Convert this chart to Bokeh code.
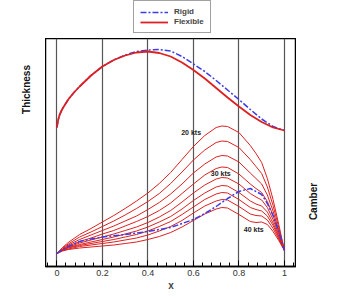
from bokeh.plotting import figure
from bokeh.layouts import column, row
from bokeh.models import Range1d, Label, Legend, LegendItem, SingleIntervalTicker
from bokeh.embed import file_html
from bokeh.resources import INLINE

# ---- thickness distribution (arbitrary vertical units) ----
x_thick = [0, 0.005, 0.0125, 0.025, 0.05, 0.075, 0.1, 0.15, 0.2, 0.25, 0.3, 0.35,
           0.4, 0.45, 0.5, 0.55, 0.6, 0.65, 0.7, 0.75, 0.8, 0.85, 0.9, 0.95, 1.0]
thick_flexible = [139, 146, 152, 158, 167, 174, 180, 191, 200, 206.5, 211, 214,
                  215, 213.5, 210, 204, 196.5, 188, 178.5, 169, 160, 151.5, 144.5, 139, 136]
thick_rigid = [139, 146, 152, 158, 167, 174, 180, 191, 200, 206.5, 211.5, 215,
               216.5, 217, 215.5, 210, 202.5, 195, 186, 176.5, 167, 157, 147.5, 140, 136]

# ---- camber lines of the flexible section, one per wind speed ----
x_camber = [0, 0.025, 0.05, 0.1, 0.15, 0.2, 0.25, 0.3, 0.35, 0.4, 0.45, 0.5, 0.55,
            0.6, 0.65, 0.7, 0.725, 0.75, 0.8, 0.85, 0.875, 0.9, 0.925, 0.95, 0.975, 1.0]
camber_20 = [13, 19, 24, 32, 38, 44.5, 51, 58, 65.5, 73.5, 83, 94, 107, 120, 131, 139,
             140.5, 140, 134, 121, 113, 104, 88, 67, 42, 16]
camber_22_5 = [13, 18.5, 22.5, 29.5, 34.5, 40, 45.5, 51.5, 58, 65, 73, 83, 94.5, 106.5,
               116.5, 124, 125.5, 125, 119, 107, 100, 93, 79.5, 61, 39, 16]
camber_25 = [13, 17.5, 21.5, 27, 31.5, 36, 40.5, 45.5, 50.5, 57, 64, 72.5, 82.5, 93.5,
             102.5, 109.5, 111, 110.5, 104.5, 93.5, 88, 82.5, 71.5, 55.5, 36, 16]
camber_27_5 = [13, 17, 20.5, 25, 28.5, 32.5, 36, 40.5, 45, 50, 56, 63.5, 73, 82.5, 91.5,
               98, 99.5, 99, 92.5, 82.5, 78, 74, 65, 51, 34, 16]
camber_30 = [13, 17, 19.5, 23.5, 26.5, 29.5, 32.5, 36, 39.5, 44, 49.5, 56, 64.5, 73.5,
             81.5, 87.5, 89, 88.5, 82.5, 73, 69.5, 66.5, 59, 47, 32, 16]
camber_32_5 = [13, 16.5, 19, 22, 24.5, 27, 29.5, 32.5, 35.5, 39.5, 44.5, 50, 57.5, 66,
               73.5, 79.5, 81, 80.5, 74, 65.5, 62.5, 60.5, 54.5, 43.5, 30.5, 16]
camber_35 = [13, 16, 18.5, 21, 23, 25, 27, 29.5, 32, 35.5, 40, 45, 52, 59.5, 67, 72.5,
             74, 73.5, 67, 59, 57, 55.5, 50.5, 41, 29, 16]
camber_37_5 = [13, 16, 17.5, 20, 21.5, 23, 24.5, 26.5, 28.5, 31.5, 35.5, 40, 46, 53.5,
               60.5, 65.5, 67, 66.5, 60, 52.5, 51, 50.5, 46.5, 38, 27.5, 16]
camber_40 = [13, 15.5, 17, 18.5, 19.5, 20.5, 21.5, 23, 24.5, 27, 30, 34, 39.5, 46, 52.5,
             57.5, 59, 58.5, 52, 45, 44, 44.5, 42, 35, 26, 16]
flexible_cambers = [camber_20, camber_22_5, camber_25, camber_27_5, camber_30,
                    camber_32_5, camber_35, camber_37_5, camber_40]

# ---- camber line of the rigid section ----
x_camber_rigid = [0, 0.025, 0.05, 0.1, 0.15, 0.2, 0.3, 0.4, 0.5, 0.6, 0.65, 0.7, 0.75,
                  0.8, 0.85, 0.9, 0.925, 0.95, 0.975, 1.0]
camber_rigid = [13, 17, 20, 25, 27.5, 29.5, 32, 35, 39, 47, 53, 60, 68, 75, 78, 72, 63,
                51, 35, 16]

# speed annotations: text, chord position, height
speed_labels = ["20 kts", "30 kts", "40 kts"]
speed_label_x = [0.59, 0.72, 0.865]
speed_label_y = [134, 93, 37]

tick_values = [0, 0.2, 0.4, 0.6, 0.8, 1]
tick_labels = ["0", "0.2", "0.4", "0.6", "0.8", "1"]

FONT = "Liberation Sans"
RED = "#dd2020"
BLUE = "#3c3ce6"
DASH_DOT = "6 2 2 2"

Y_LO, Y_HI = 0, 228          # vertical extent of the plotting box
Y_FOOT = -33                 # value reached at the foot of the x-axis strip


def blank(width, height, y_range):
    f = figure(width=width, height=height, x_range=Range1d(0, 1), y_range=y_range,
               output_backend="svg", toolbar_location=None, x_axis_location=None,
               y_axis_location=None, min_border=0, frame_align=False)
    f.outline_line_color = None
    f.grid.visible = False
    f.background_fill_color = "white"
    f.border_fill_color = "white"
    return f


# ---------------- main plot ----------------
p = figure(width=251, height=261, x_range=Range1d(-0.05, 1.053), y_range=Range1d(Y_LO, Y_HI),
           output_backend="svg", toolbar_location=None, y_axis_location=None,
           min_border_left=0, min_border_right=0, min_border_top=0, min_border_bottom=33,
           frame_align=False)
p.outline_line_color = "black"
p.outline_line_width = 1.5
p.background_fill_color = "white"
p.border_fill_color = "white"

ticker = SingleIntervalTicker(interval=0.2, num_minor_ticks=5)
p.xaxis.ticker = ticker
p.xaxis.major_label_overrides = {v: s for v, s in zip(tick_values, tick_labels)}
p.xaxis.major_tick_in = 6
p.xaxis.major_tick_out = 0
p.xaxis.minor_tick_in = 4
p.xaxis.minor_tick_out = 0
p.xaxis.axis_line_color = "black"
p.xaxis.axis_line_width = 1.5
p.xaxis.major_label_standoff = 3
p.xaxis.major_label_text_font = FONT
p.xaxis.major_label_text_font_size = "9px"
p.xaxis.major_label_text_color = "#333333"
p.xaxis.axis_label = "x"
p.xaxis.axis_label_text_font = FONT
p.xaxis.axis_label_text_font_style = "bold"
p.xaxis.axis_label_text_font_size = "10px"
p.xaxis.axis_label_standoff = 1

p.xgrid.ticker = ticker
p.xgrid.grid_line_color = "#555555"
p.xgrid.grid_line_width = 1.2
p.ygrid.visible = False

# thickness curves
p.line(x_thick, thick_rigid, line_color=BLUE, line_width=1.5, line_dash=DASH_DOT)
p.line(x_thick, thick_flexible, line_color=RED, line_width=1.8)

# camber curves
for cam in flexible_cambers:
    p.line(x_camber, cam, line_color=RED, line_width=1)
p.line(x_camber_rigid, camber_rigid, line_color=BLUE, line_width=1.5, line_dash=DASH_DOT)

for txt, lx, ly in zip(speed_labels, speed_label_x, speed_label_y):
    p.add_layout(Label(x=lx, y=ly, text=txt, text_align="center", text_baseline="middle",
                       text_font=FONT, text_font_style="bold", text_font_size="7px",
                       text_color="#222222"))

# ---------------- side strips holding the vertical titles ----------------
left_strip = blank(45, 261, Range1d(Y_FOOT, Y_HI))
left_strip.add_layout(Label(x=0.58, y=177, text="Thickness", angle=90, angle_units="deg",
                            text_align="center", text_baseline="middle", text_font=FONT,
                            text_font_style="bold", text_font_size="10px",
                            text_color="#111111"))
right_strip = blank(44, 261, Range1d(Y_FOOT, Y_HI))
right_strip.add_layout(Label(x=0.375, y=65, text="Camber", angle=90, angle_units="deg",
                             text_align="center", text_baseline="middle", text_font=FONT,
                             text_font_style="bold", text_font_size="10px",
                             text_color="#111111"))

# ---------------- legend strip on top ----------------
key = blank(340, 38, Range1d(0, 1))
k_rigid = key.line(x_thick, thick_rigid, line_color=BLUE, line_width=1.5, line_dash=DASH_DOT)
k_flex = key.line(x_thick, thick_flexible, line_color=RED, line_width=1.8)

legend = Legend(items=[LegendItem(label="Rigid", renderers=[k_rigid]),
                       LegendItem(label="Flexible", renderers=[k_flex])],
                location=(133, 5), orientation="vertical")
legend.border_line_color = "#444444"
legend.border_line_width = 1
legend.background_fill_color = "white"
legend.background_fill_alpha = 1
legend.label_text_font = FONT
legend.label_text_font_style = "bold"
legend.label_text_font_size = "8px"
legend.label_height = 8
legend.glyph_height = 8
legend.glyph_width = 28
legend.label_standoff = 6
legend.padding = 6
legend.spacing = 1
legend.margin = 0
key.add_layout(legend, "center")

layout = column(key, row(left_strip, p, right_strip, spacing=0), spacing=0)
open("out.html", "w").write(file_html(layout, INLINE))
